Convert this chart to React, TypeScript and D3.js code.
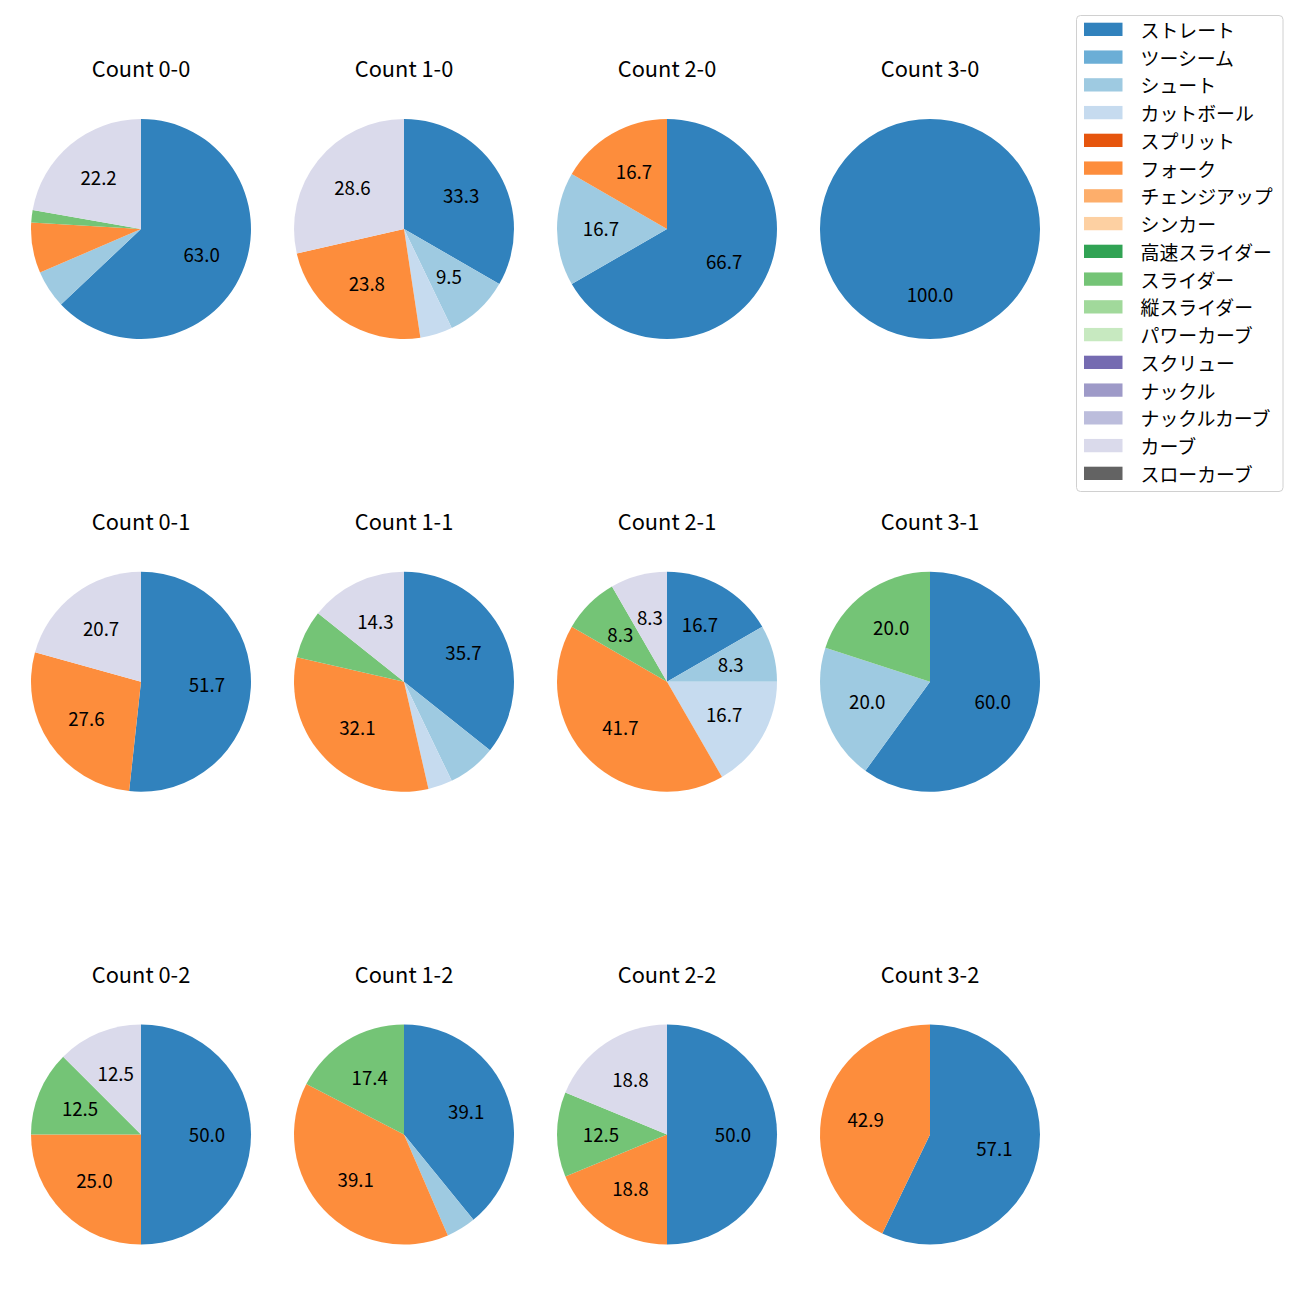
import React from "react";
import * as d3 from "d3";

const pitchTypes = [
  "ストレート", "ツーシーム", "シュート", "カットボール", "スプリット", "フォーク",
  "チェンジアップ", "シンカー", "高速スライダー", "スライダー", "縦スライダー",
  "パワーカーブ", "スクリュー", "ナックル", "ナックルカーブ", "カーブ", "スローカーブ",
];

const pitchColors = [
  "#3182bd", "#6baed6", "#9ecae1", "#c6dbef", "#e6550d", "#fd8d3c", "#fdae6b",
  "#fdd0a2", "#31a354", "#74c476", "#a1d99b", "#c7e9c0", "#756bb1", "#9e9ac8",
  "#bcbddc", "#dadaeb", "#636363",
];

const balls = [0, 1, 2, 3];
const strikes = [0, 1, 2];

// pitch counts per panel, in pitchTypes order
const count00 = [34, 0, 3, 0, 0, 4, 0, 0, 0, 1, 0, 0, 0, 0, 0, 12, 0];
const count10 = [7, 0, 2, 1, 0, 5, 0, 0, 0, 0, 0, 0, 0, 0, 0, 6, 0];
const count20 = [4, 0, 1, 0, 0, 1, 0, 0, 0, 0, 0, 0, 0, 0, 0, 0, 0];
const count30 = [5, 0, 0, 0, 0, 0, 0, 0, 0, 0, 0, 0, 0, 0, 0, 0, 0];
const count01 = [15, 0, 0, 0, 0, 8, 0, 0, 0, 0, 0, 0, 0, 0, 0, 6, 0];
const count11 = [10, 0, 2, 1, 0, 9, 0, 0, 0, 2, 0, 0, 0, 0, 0, 4, 0];
const count21 = [2, 0, 1, 2, 0, 5, 0, 0, 0, 1, 0, 0, 0, 0, 0, 1, 0];
const count31 = [3, 0, 1, 0, 0, 0, 0, 0, 0, 1, 0, 0, 0, 0, 0, 0, 0];
const count02 = [4, 0, 0, 0, 0, 2, 0, 0, 0, 1, 0, 0, 0, 0, 0, 1, 0];
const count12 = [9, 0, 1, 0, 0, 9, 0, 0, 0, 4, 0, 0, 0, 0, 0, 0, 0];
const count22 = [8, 0, 0, 0, 0, 3, 0, 0, 0, 2, 0, 0, 0, 0, 0, 3, 0];
const count32 = [4, 0, 0, 0, 0, 3, 0, 0, 0, 0, 0, 0, 0, 0, 0, 0, 0];

const panelCounts = [
  [count00, count10, count20, count30],
  [count01, count11, count21, count31],
  [count02, count12, count22, count32],
];

const LABEL_MIN_PCT = 8;

const FONT = "'Noto Sans CJK JP', 'Noto Sans', sans-serif";

export default function App() {
  const R = 110;
  const xScale = d3.scaleLinear().domain([0, 3]).range([141, 930]);
  const yScale = d3.scaleLinear().domain([0, 2]).range([229, 1134.5]);
  const pie = d3
    .pie<number>()
    .sort(null)
    .value((d) => d)
    .startAngle(0)
    .endAngle(2 * Math.PI);
  const arc = d3.arc<d3.PieArcDatum<number>>().innerRadius(0).outerRadius(R);
  const labelArc = d3
    .arc<d3.PieArcDatum<number>>()
    .innerRadius(R * 0.6)
    .outerRadius(R * 0.6);

  const legendX = 1076.5;
  const legendY = 15.5;
  const rowH = 27.75;

  return (
    <svg
      width={1300}
      height={1300}
      style={{ position: "absolute", left: 0, top: 0, background: "#fff" }}
      fontFamily={FONT}
    >
      <rect x={0} y={0} width={1300} height={1300} fill="#fff" />
      {strikes.map((s, ri) =>
        balls.map((b, ci) => {
          const vals = panelCounts[ri][ci];
          const total = d3.sum(vals);
          const arcs = pie(vals);
          const cx = xScale(ci);
          const cy = yScale(ri);
          return (
            <g key={`${b}-${s}`}>
              <text
                x={cx}
                y={cy - 152}
                textAnchor="middle"
                fontSize={21.8}
                fill="#000"
              >
                {`Count ${b}-${s}`}
              </text>
              <g transform={`translate(${cx},${cy})`}>
                {arcs.map((a, i) =>
                  a.value > 0 ? (
                    <path key={i} d={arc(a) || ""} fill={pitchColors[i]} />
                  ) : null
                )}
                {arcs.map((a, i) => {
                  const pct = (a.value / total) * 100;
                  if (a.value <= 0 || pct < LABEL_MIN_PCT) return null;
                  const [lx, ly] = labelArc.centroid(a);
                  return (
                    <text
                      key={`l${i}`}
                      x={lx}
                      y={ly - 1.5}
                      textAnchor="middle"
                      dominantBaseline="central"
                      fontSize={18.7}
                      fill="#000"
                    >
                      {pct.toFixed(1)}
                    </text>
                  );
                })}
              </g>
            </g>
          );
        })
      )}
      <g>
        <rect
          x={legendX}
          y={legendY}
          width={206.5}
          height={476}
          rx={4}
          fill="#fff"
          fillOpacity={0.8}
          stroke="#d0d0d0"
          strokeWidth={1}
        />
        {pitchTypes.map((p, i) => {
          const yc = 29.3 + i * rowH;
          return (
            <g key={p}>
              <rect x={1084} y={yc - 6.6} width={38.5} height={13.3} fill={pitchColors[i]} />
              <text
                x={1140.5}
                y={yc}
                dominantBaseline="central"
                fontSize={18.9}
                fill="#000"
              >
                {p}
              </text>
            </g>
          );
        })}
      </g>
    </svg>
  );
}
